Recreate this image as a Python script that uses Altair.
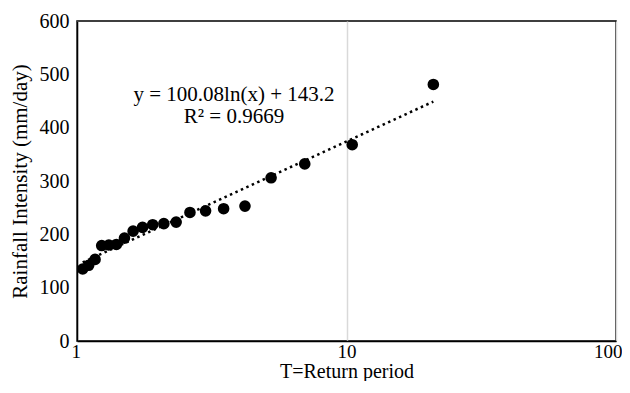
import altair as alt
import pandas as pd

# Return period (Weibull plotting positions, n = 20) and rainfall intensity (mm/day)
return_period = [1.05, 1.105, 1.167, 1.235, 1.3125, 1.4, 1.5, 1.615, 1.75, 1.909,
                 2.1, 2.333, 2.625, 3.0, 3.5, 4.2, 5.25, 7.0, 10.5, 21.0]
intensity = [135, 142, 153, 179, 180, 181, 193, 206, 213, 218,
             220, 223, 241, 244, 248, 253, 306, 332, 368, 481]

x_ticks = [1, 10, 100]
y_ticks = [0, 100, 200, 300, 400, 500, 600]
eq_lines = ["y = 100.08ln(x) + 143.2", "R² = 0.9669"]

df = pd.DataFrame({"T": return_period, "I": intensity})

FONT = "Liberation Serif"

x_enc = alt.X("T:Q",
              scale=alt.Scale(type="log", domain=[1, 100], nice=False),
              axis=alt.Axis(values=x_ticks, format="~g", title="T=Return period",
                            grid=True, gridColor="#d9d9d9", gridWidth=1.5,
                            ticks=False, labelPadding=1, titlePadding=0,
                            labelFlush=True, labelFlushOffset=6,
                            labelFontSize=19, titleFontSize=20,
                            domainColor="black", domainWidth=1.5))
y_enc = alt.Y("I:Q",
              scale=alt.Scale(domain=[0, 600], nice=False),
              axis=alt.Axis(values=y_ticks, title="Rainfall Intensity (mm/day)",
                            grid=False, ticks=False, labelPadding=8, titlePadding=9,
                            labelFontSize=20, titleFontSize=21,
                            domainColor="black", domainWidth=1.5))

base = alt.Chart(df)

points = base.mark_circle(size=135, color="black", opacity=1).encode(x=x_enc, y=y_enc)

trend = base.transform_regression("T", "I", method="log").mark_line(
    color="black", strokeWidth=2.5, strokeDash=[2.5, 3.5], strokeCap="butt"
).encode(x="T:Q", y="I:Q")

eq1 = alt.Chart(pd.DataFrame({"t": [eq_lines[0]]})).mark_text(
    font=FONT, fontSize=21, color="black", align="center", baseline="middle"
).encode(text="t:N", x=alt.value(157), y=alt.value(74))

eq2 = alt.Chart(pd.DataFrame({"t": [eq_lines[1]]})).mark_text(
    font=FONT, fontSize=21, color="black", align="center", baseline="middle"
).encode(text="t:N", x=alt.value(157), y=alt.value(96))

chart = alt.layer(points, trend, eq1, eq2).properties(
    width=539, height=320,
    background="white",
    autosize=alt.AutoSizeParams(type="none"),
    padding={"left": 69, "top": 13, "right": 6, "bottom": 40},
).configure_view(
    stroke="black", strokeWidth=1.5
).configure_axis(
    labelFont=FONT, labelColor="black",
    titleFont=FONT, titleColor="black", titleFontWeight="normal",
)

chart.save("out.html", embed_options={"renderer": "svg", "actions": False})
